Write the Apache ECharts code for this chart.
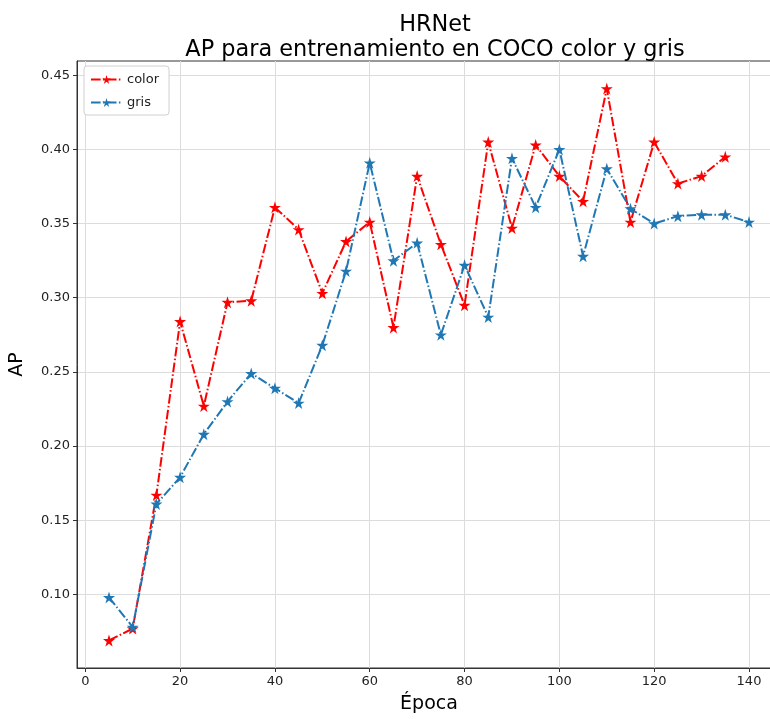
<!DOCTYPE html>
<html>
<head>
<meta charset="utf-8">
<script src="https://cdn.jsdelivr.net/npm/echarts@6/dist/echarts.min.js"></script>
<style>
  html, body { margin: 0; padding: 0; background: #fff; overflow: hidden; }
  /* el grafico original esta recortado por la derecha */
  #main { width: 781px; height: 719px; }
</style>
</head>
<body>
<div id="main"></div>
<script>
// epocas y AP
const epocasColor = [5, 10, 15, 20, 25, 30, 35, 40, 45, 50, 55, 60, 65, 70, 75, 80, 85, 90, 95, 100, 105, 110, 115, 120, 125, 130, 135]
const apColor = [0.069, 0.077, 0.167, 0.284, 0.227, 0.297, 0.298, 0.361, 0.346, 0.303, 0.338, 0.351, 0.280, 0.382,
    0.336, 0.295, 0.405, 0.347, 0.403, 0.382, 0.365, 0.441, 0.351, 0.405, 0.377, 0.382, 0.395]

const epocasGris = [5, 10, 15, 20, 25, 30, 35, 40, 45, 50, 55, 60, 65, 70, 75, 80, 85, 90, 95, 100, 105, 110, 115, 120, 125, 130, 135, 140]
const apGris = [0.098, 0.078, 0.161, 0.179, 0.208, 0.230, 0.249, 0.239, 0.229, 0.268, 0.318, 0.391, 0.325, 0.337,
    0.275, 0.322, 0.287, 0.394, 0.361, 0.400, 0.328, 0.387, 0.360, 0.350, 0.355, 0.356, 0.356, 0.351]

const xTicks = [0, 20, 40, 60, 80, 100, 120, 140]
const yTicks = [0.10, 0.15, 0.20, 0.25, 0.30, 0.35, 0.40, 0.45]

const star = 'path://M50,0 L61,35 L98,35 L68,57 L79,91 L50,70 L21,91 L32,57 L2,35 L39,35 Z'
const font = 'DejaVu Sans'

function pares(xs, ys) {
    return xs.map(function (x, i) { return [x, ys[i]] })
}

let myChart = echarts.init(document.getElementById('main'), null, { renderer: 'canvas' })

let option = {
    animation: false,
    backgroundColor: '#fff',
    textStyle: { fontFamily: font },
    title: {
        text: 'HRNet\nAP para entrenamiento en COCO color y gris',
        left: 430,
        top: 8,
        textAlign: 'center',
        textStyle: { fontFamily: font, fontSize: 22.4, fontWeight: 'normal', color: '#000', lineHeight: 25 }
    },
    legend: {
        orient: 'vertical',
        left: 84,
        top: 66,
        padding: [7, 10, 6, 6],
        itemGap: 10,
        itemWidth: 31,
        itemHeight: 11,
        backgroundColor: '#fff',
        borderColor: '#d0d0d0',
        borderWidth: 1,
        borderRadius: 3,
        textStyle: { fontFamily: font, fontSize: 13, color: '#222' },
        data: ['color', 'gris']
    },
    grid: {
        left: 77, top: 61, right: 0, bottom: 49, containLabel: false,
        show: true, borderColor: '#333', borderWidth: 1
    },
    xAxis: {
        type: 'value',
        min: -1.75,
        max: 146.75,
        name: 'Época',
        nameLocation: 'middle',
        nameGap: 27,
        nameTextStyle: { fontFamily: font, fontSize: 19, color: '#000' },
        axisLine: { onZero: false, lineStyle: { color: '#333', width: 1 } },
        axisTick: { show: true, length: 4, customValues: xTicks, lineStyle: { color: '#333' } },
        axisLabel: { customValues: xTicks, fontFamily: font, fontSize: 13, color: '#222', margin: 7 },
        splitLine: { show: true, lineStyle: { color: '#dcdcdc', width: 1 } }
    },
    yAxis: {
        type: 'value',
        min: 0.0504,
        max: 0.4596,
        name: 'AP',
        nameLocation: 'middle',
        nameGap: 50,
        nameTextStyle: { fontFamily: font, fontSize: 19, color: '#000' },
        axisLine: { show: true, onZero: false, lineStyle: { color: '#333', width: 1 } },
        axisTick: { show: true, length: 4, customValues: yTicks, lineStyle: { color: '#333' } },
        axisLabel: {
            customValues: yTicks, fontFamily: font, fontSize: 13, color: '#222', margin: 7,
            formatter: function (v) { return v.toFixed(2) }
        },
        splitLine: { show: true, lineStyle: { color: '#dcdcdc', width: 1 } }
    },
    series: [
        {
            name: 'color',
            type: 'line',
            data: pares(epocasColor, apColor),
            symbol: star,
            symbolSize: 12,
            showAllSymbol: true,
            itemStyle: { color: '#ff0000' },
            lineStyle: { color: '#ff0000', width: 2, type: [9.6, 2.4, 1.5, 2.4] }
        },
        {
            name: 'gris',
            type: 'line',
            data: pares(epocasGris, apGris),
            symbol: star,
            symbolSize: 12,
            showAllSymbol: true,
            itemStyle: { color: '#1f77b4' },
            lineStyle: { color: '#1f77b4', width: 2, type: [9.6, 2.4, 1.5, 2.4] }
        }
    ]
}

myChart.setOption(option)
</script>
</body>
</html>
